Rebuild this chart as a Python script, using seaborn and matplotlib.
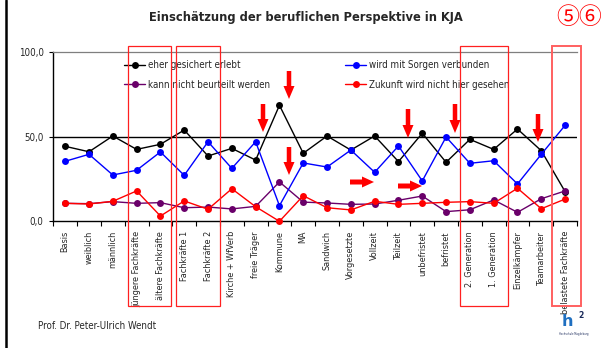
import matplotlib
matplotlib.use("Agg")
import matplotlib.pyplot as plt
import matplotlib.patches as patches
from matplotlib.lines import Line2D
from matplotlib.transforms import Affine2D
from matplotlib import font_manager
import seaborn as sns
import pandas as pd
import numpy as np

# --- data -------------------------------------------------------------
categories = ["Basis", "weiblich", "männlich", "jüngere Fachkräfte", "ältere Fachkräfte",
              "Fachkräfte 1", "Fachkräfte 2", "Kirche + WfVerb", "freie Träger", "Kommune",
              "MA", "Sandwich", "Vorgesetzte", "Vollzeit", "Teilzeit", "unbefristet",
              "befristet", "2. Generation", "1. Generation", "Einzelkämpfer",
              "Teamarbeiter", "belastete Fachkräfte"]

gesichert = [44.2, 41.0, 50.3, 42.4, 45.4, 53.8, 38.5, 43.0, 36.1, 68.4, 40.1,
             50.3, 42.0, 50.3, 35.2, 51.9, 34.8, 48.3, 42.4, 54.4, 41.6, 17.5]
nicht_beurteilt = [10.6, 10.4, 11.6, 10.6, 11.0, 8.0, 8.4, 7.3, 8.8, 23.2, 11.3,
                   10.8, 10.0, 10.2, 12.4, 14.9, 5.7, 6.8, 12.6, 5.3, 13.3, 17.9]
sorgen = [35.4, 39.5, 27.3, 30.1, 40.9, 27.1, 46.9, 31.2, 46.9, 9.2, 34.4,
          32.0, 42.0, 28.9, 44.4, 23.8, 49.7, 34.2, 35.7, 22.0, 39.5, 56.6]
nicht_hier = [10.6, 10.2, 11.8, 17.9, 3.1, 12.0, 7.1, 19.2, 8.6, 0.0, 15.1,
              8.0, 6.7, 11.8, 10.0, 10.6, 11.2, 11.6, 10.6, 19.5, 7.4, 13.1]

series_names = ["eher gesichert erlebt", "kann nicht beurteilt werden",
                "wird mit Sorgen verbunden", "Zukunft wird nicht hier gesehen"]
series_colors = ["#000000", "#6a006a", "#0000ff", "#ff0000"]
y_ticks = [0, 50, 100]
y_ticklabels = ["0,0", "50,0", "100,0"]

title = "Einschätzung der beruflichen Perspektive in KJA"
footer = "Prof. Dr. Peter-Ulrich Wendt"

rows = []
for name, vals in zip(series_names, [gesichert, nicht_beurteilt, sorgen, nicht_hier]):
    for i, (cat, v) in enumerate(zip(categories, vals)):
        rows.append({"pos": i, "Kategorie": cat, "Serie": name, "Prozent": v})
df = pd.DataFrame(rows)

# --- style ------------------------------------------------------------
sns.set_theme(style="white")
installed = {f.name for f in font_manager.fontManager.ttflist}
if "Liberation Sans Narrow" in installed:
    NARROW = dict(family="Liberation Sans Narrow")
else:
    NARROW = dict(family="DejaVu Sans", stretch="condensed")
plt.rcParams["font.family"] = ["DejaVu Sans"]

W, H, DPI = 610, 348, 100
fig = plt.figure(figsize=(W / DPI, H / DPI), dpi=DPI)
fig.patch.set_facecolor("white")
# pixel coordinates with origin at the top-left corner
PX = Affine2D().scale(1 / DPI, -1 / DPI).translate(0, H / DPI) + fig.dpi_scale_trans

left, right, top, bottom = 53.3, 577.0, 51.7, 221.3
ax = fig.add_axes([left / W, 1 - bottom / H, (right - left) / W, (bottom - top) / H])

sns.lineplot(data=df, x="pos", y="Prozent", hue="Serie", hue_order=series_names,
             palette=series_colors, marker="o", markersize=5, markeredgewidth=0,
             linewidth=1.0, legend=False, ax=ax, clip_on=False, zorder=3)

ax.set_xlim(-0.5, len(categories) - 0.5)
ax.set_ylim(0, 100)
ax.set_xlabel("")
ax.set_ylabel("")
ax.axhline(50, color="black", lw=1.0, zorder=2)

for s in ["left", "bottom"]:
    ax.spines[s].set_color("black")
    ax.spines[s].set_linewidth(1.0)
ax.spines["right"].set_visible(False)
ax.spines["top"].set_color("#7f7f7f")
ax.spines["top"].set_linewidth(0.9)

ax.set_xticks(range(len(categories)))
ax.set_xticklabels(categories, rotation=90, va="top", ha="center",
                   fontsize=6.5, **NARROW)
ax.set_xticks(np.arange(-0.5, len(categories), 1.0), minor=True)
ax.tick_params(axis="x", which="major", length=0, pad=7)
ax.tick_params(axis="x", which="minor", length=3.5, width=0.8, direction="out",
               color="black", bottom=True)
ax.set_yticks(y_ticks)
ax.set_yticklabels(y_ticklabels, fontsize=7, **NARROW)
ax.tick_params(axis="y", length=3, width=0.8, direction="out", color="black",
               left=True, pad=4)

# legend in two columns
def handle(c):
    return Line2D([], [], color=c, marker="o", markersize=5, markeredgewidth=0, lw=1.0)

leg_kw = dict(frameon=False, handlelength=2.2, handletextpad=0.25, labelspacing=1.0,
              borderpad=0, borderaxespad=0, prop=font_manager.FontProperties(size=7, **NARROW))
leg1 = ax.legend([handle(series_colors[0]), handle(series_colors[1])], series_names[:2],
                 loc="upper left", bbox_to_anchor=(124, 60), bbox_transform=PX, **leg_kw)
ax.add_artist(leg1)
ax.legend([handle(series_colors[2]), handle(series_colors[3])], series_names[2:],
          loc="upper left", bbox_to_anchor=(345, 60), bbox_transform=PX, **leg_kw)

# headline, circled slide numbers, footer
fig.text(306, 18, title, transform=PX, ha="center", va="center",
         fontsize=8.3, fontweight="bold")
fig.text(579, 17, "⑤⑥", transform=PX, ha="center", va="center", fontsize=16.5,
         color="#ff0000", family=["Noto Sans CJK JP", "DejaVu Sans"])
fig.text(38, 326, footer, transform=PX, ha="left", va="center", fontsize=7, **NARROW)

# left slide edge
fig.add_artist(Line2D([6.2, 6.2], [0, H], transform=PX, color="black", lw=1.8))

# highlight boxes around category groups
for x0, x1, c, lw in [(128.3, 171.0, "#ff2020", 0.9), (176.0, 219.7, "#ff2020", 0.9),
                      (460.3, 508.3, "#ff2020", 0.9), (551.7, 580.7, "#ff6060", 1.4)]:
    fig.add_artist(patches.Rectangle((x0, 46), x1 - x0, 260, transform=PX, fill=False,
                                     ec=c, lw=lw, zorder=5))

# arrows
for x, y0, y1 in [(263, 104, 132), (289, 71, 99), (289, 147, 175),
                  (408, 109, 138), (455, 104, 133), (538, 114, 142)]:
    fig.add_artist(patches.FancyArrow(x, y0, 0, y1 - y0, width=4.5, head_width=11,
                                      head_length=13, length_includes_head=True,
                                      transform=PX, color="#ff0000", lw=0, zorder=6))
for x0, x1, y in [(350, 374, 182), (398, 422, 186)]:
    fig.add_artist(patches.FancyArrow(x0, y, x1 - x0, 0, width=5, head_width=11,
                                      head_length=12, length_includes_head=True,
                                      transform=PX, color="#ff0000", lw=0, zorder=6))

# university logo
fig.text(567, 326, "h", transform=PX, ha="center", va="baseline", fontsize=11.5,
         fontweight="bold", color="#1f6fc0")
fig.text(581, 318, "2", transform=PX, ha="center", va="baseline", fontsize=5.5,
         fontweight="bold", color="#1a2a5a")
fig.text(574, 335, "Hochschule Magdeburg", transform=PX, ha="center", va="baseline",
         fontsize=1.8, color="#1a2a5a")

fig.savefig("out.png", dpi=DPI, facecolor="white")
